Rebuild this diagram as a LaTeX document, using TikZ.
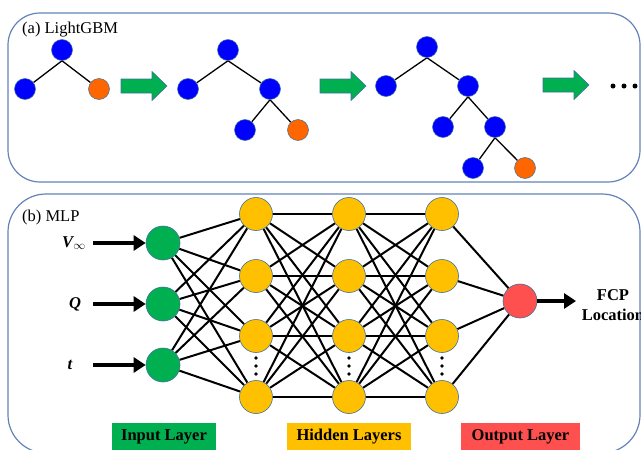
\documentclass[tikz,border=0pt]{standalone}
\usepackage{fontspec}
\setmainfont{Liberation Serif}
\usetikzlibrary{arrows.meta,backgrounds}

\definecolor{panelblue}{RGB}{100,130,185}
\definecolor{nodeline}{RGB}{65,113,156}
\definecolor{treeblue}{RGB}{0,0,255}
\definecolor{treeorange}{RGB}{255,102,0}
\definecolor{boostgreen}{RGB}{0,176,80}
\definecolor{ingreen}{RGB}{0,176,80}
\definecolor{hidyellow}{RGB}{255,192,0}
\definecolor{outred}{RGB}{255,80,80}

\tikzset{
  panel/.style={draw=panelblue, line width=1.2pt},
  caption/.style={anchor=west, inner sep=0pt, font=\fontsize{16.5}{19}\selectfont},
  leaf/.style={circle, minimum size=21pt, inner sep=0pt, draw=nodeline, line width=0.5pt, fill=treeblue},
  hot/.style={leaf, fill=treeorange},
  treeedge/.style={line width=1.3pt},
  fatarrow/.pic={
    \draw[draw=nodeline, line width=0.6pt, fill=boostgreen]
      (0,-7) -- (31,-7) -- (31,-14.5) -- (46,0) -- (31,14.5) -- (31,7) -- (0,7) -- cycle;
  },
  neuron/.style={circle, inner sep=0pt, minimum size=33pt, draw=nodeline, line width=0.6pt},
  innode/.style={neuron, minimum size=34pt, fill=ingreen},
  hidnode/.style={neuron, fill=hidyellow},
  outnode/.style={neuron, minimum size=34pt, fill=outred},
  link/.style={line width=2pt},
  feed/.style={line width=3.8pt, -{Triangle[length=12pt,width=15pt]}},
  varlabel/.style={inner sep=0pt, font=\fontsize{16.5}{19}\selectfont\bfseries\itshape},
  tag/.style={inner sep=0pt, minimum height=28pt, font=\fontsize{16.5}{19}\selectfont\bfseries},
}

\begin{document}
\begin{tikzpicture}[x=1pt, y=-1pt]
\useasboundingbox (0,0) rectangle (641,450);

% ---------------- (a) LightGBM ----------------
\draw[panel, rounded corners=32pt] (8,13) rectangle (640,182);
\node[caption] (capA) at (22,30) {(a) LightGBM};

% first tree
\node[leaf] (t1r) at (62,50) {};
\node[leaf] (t1a) at (25,89) {};
\node[hot]  (t1b) at (99,89) {};

% second tree
\node[leaf] (t2r) at (228,50) {};
\node[leaf] (t2a) at (188,89) {};
\node[leaf] (t2b) at (270,89) {};
\node[leaf] (t2c) at (245,130) {};
\node[hot]  (t2d) at (298,130) {};

% third tree
\node[leaf] (t3r) at (427,47) {};
\node[leaf] (t3a) at (386,86) {};
\node[leaf] (t3b) at (468,86) {};
\node[leaf] (t3c) at (443,127) {};
\node[leaf] (t3d) at (495,127) {};
\node[leaf] (t3e) at (473,168) {};
\node[hot]  (t3f) at (525,168) {};

\begin{scope}[on background layer]
  \draw[treeedge] (t1r.south) -- (t1a);
  \draw[treeedge] (t1r.south) -- (t1b);
  \draw[treeedge] (t2r.south) -- (t2a);
  \draw[treeedge] (t2r.south) -- (t2b);
  \draw[treeedge] (t2b.south) -- (t2c);
  \draw[treeedge] (t2b.south) -- (t2d);
  \draw[treeedge] (t3r.south) -- (t3a);
  \draw[treeedge] (t3r.south) -- (t3b);
  \draw[treeedge] (t3b.south) -- (t3c);
  \draw[treeedge] (t3b.south) -- (t3d);
  \draw[treeedge] (t3d.south) -- (t3e);
  \draw[treeedge] (t3d.south) -- (t3f);
\end{scope}

% boosting arrows
\pic at (121,86) {fatarrow};
\pic at (320,86) {fatarrow};
\pic at (543,85) {fatarrow};
\foreach \x in {613,624,635} \fill (\x,86) circle[radius=2.5pt];

% ---------------- (b) MLP ----------------
\draw[panel, rounded corners=38pt] (8,194) rectangle (640,453);
\node[caption] (capB) at (22,218) {(b) MLP};

% input layer
\node[innode] (in1) at (163,243) {};
\node[innode] (in2) at (163,304) {};
\node[innode] (in3) at (163,365) {};

% hidden layers
\foreach \c/\x in {a/256,b/349,c/442} {
  \node[hidnode] (h\c1) at (\x,214) {};
  \node[hidnode] (h\c2) at (\x,276) {};
  \node[hidnode] (h\c3) at (\x,336) {};
  \node[hidnode] (h\c4) at (\x,397) {};
  \foreach \y in {358,366,374} \fill (\x,\y) circle[radius=1.8pt];
}

% output layer
\node[outnode] (out) at (520,301) {};

\begin{scope}[on background layer]
  \foreach \i in {1,2,3} \foreach \j in {1,2,3,4} \draw[link] (in\i) -- (ha\j);
  \foreach \i in {1,2,3,4} \foreach \j in {1,2,3,4} {
    \draw[link] (ha\i) -- (hb\j);
    \draw[link] (hb\i) -- (hc\j);
  }
  \foreach \i in {1,2,3,4} \draw[link] (hc\i) -- (out);
\end{scope}

% inputs
\node[varlabel] (vinf) at (74,243) {V$_{\infty}$};
\node[varlabel] (vq) at (75,304) {Q};
\node[varlabel] (vt) at (70,365) {t};
\coordinate (s1) at (93,243);
\coordinate (s2) at (93,304);
\coordinate (s3) at (93,365);
\draw[feed] (s1) -- (in1);
\draw[feed] (s2) -- (in2);
\draw[feed] (s3) -- (in3);

% output
\coordinate (e1) at (576,301);
\draw[feed] (out) -- (e1);
\node[align=center, inner sep=0pt, font=\fontsize{16.5}{20}\selectfont\bfseries] (fcp) at (613,305) {FCP\\Location};

% layer tags
\node[tag, fill=ingreen, minimum width=104pt] (tagIn) at (164,437) {Input Layer};
\node[tag, fill=hidyellow, minimum width=124pt] (tagHid) at (349,437) {Hidden Layers};
\node[tag, fill=outred, minimum width=119pt] (tagOut) at (520.5,437) {Output Layer};
\end{tikzpicture}
\end{document}
